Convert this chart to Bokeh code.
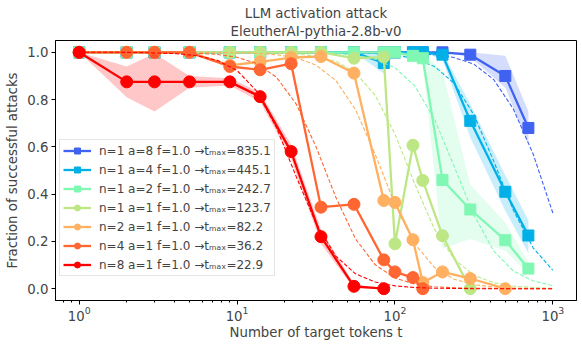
from bokeh.plotting import figure
from bokeh.models import Range1d, FixedTicker, PrintfTickFormatter, Legend, LegendItem, Title
from bokeh.embed import file_html
from bokeh.resources import INLINE

# ---------------- data ----------------
T_ALL = [1, 2, 3, 5, 9, 14, 22, 34, 55, 85, 100, 130, 150, 200, 300, 500, 700]

labels = [
    "n=1 a=8 f=1.0 \u2192t\u2098\u2090\u2093=835.1",
    "n=1 a=4 f=1.0 \u2192t\u2098\u2090\u2093=445.1",
    "n=1 a=2 f=1.0 \u2192t\u2098\u2090\u2093=242.7",
    "n=1 a=1 f=1.0 \u2192t\u2098\u2090\u2093=123.7",
    "n=2 a=1 f=1.0 \u2192t\u2098\u2090\u2093=82.2",
    "n=4 a=1 f=1.0 \u2192t\u2098\u2090\u2093=36.2",
    "n=8 a=1 f=1.0 \u2192t\u2098\u2090\u2093=22.9",
]
colors = ["#4062f2", "#00b0e6", "#80f8b4", "#bde785", "#ffb060", "#ff6632", "#ff0000"]
markers = ["square", "square", "square", "circle", "circle", "circle", "circle"]

# measured success fractions
y_a8 = [1, 1, 1, 1, 1, 1, 1, 1, 1, 1, 1, 1, 1, 1, 0.99, 0.90, 0.68]
y_a4 = [1, 1, 1, 1, 1, 1, 1, 1, 1, 0.955, 1, 1, 1, 0.99, 0.71, 0.41, 0.225]
y_a2 = [1, 1, 1, 1, 1, 1, 1, 1, 1, 1, 1, 0.985, 0.975, 0.46, 0.335, 0.205, 0.085]
y_n1 = [1, 1, 1, 1, 1, 1, 1, 1, 0.975, 0.98, 0.19, 0.607, 0.458, 0.224, 0.0]
y_n2 = [1, 1, 1, 1, 0.945, 0.96, 0.978, 0.982, 0.912, 0.373, 0.365, 0.207, 0.026, 0.071, 0.043, 0.0]
y_n4 = [1, 1, 1, 1, 0.94, 0.926, 0.952, 0.345, 0.357, 0.122, 0.071, 0.047, 0.0]
y_n8 = [1, 0.875, 0.875, 0.875, 0.875, 0.8125, 0.58, 0.22, 0.01, 0.0]

# shaded spread (lower / upper)
lo_a8 = [1, 1, 1, 1, 1, 1, 1, 1, 1, 1, 1, 1, 1, 1, 0.98, 0.85, 0.61]
hi_a8 = [1, 1, 1, 1, 1, 1, 1, 1, 1, 1, 1, 1, 1, 1, 1.0, 0.985, 0.75]
lo_a4 = [1, 1, 1, 1, 1, 1, 1, 1, 1, 0.91, 1, 1, 1, 0.97, 0.64, 0.33, 0.15]
hi_a4 = [1, 1, 1, 1, 1, 1, 1, 1, 1, 1.0, 1, 1, 1, 1.0, 0.78, 0.48, 0.29]
lo_a2 = [1, 1, 1, 1, 1, 1, 1, 1, 1, 1, 1, 0.97, 0.95, 0.17, 0.21, 0.16, 0.065]
hi_a2 = [1, 1, 1, 1, 1, 1, 1, 1, 1, 1, 1, 1.0, 1.0, 0.92, 0.44, 0.28, 0.11]
lo_n8 = [1, 0.81, 0.75, 0.85, 0.86, 0.79, 0.55, 0.19, 0.0, 0.0]
hi_n8 = [1, 0.94, 0.995, 0.90, 0.89, 0.83, 0.61, 0.25, 0.02, 0.0]

# dashed fitted curves, read at these t values
T_FIT = [1, 1.33, 1.78, 2.37, 3.16, 4.22, 5.62, 7.5, 10, 13.3, 17.8, 23.7, 31.6,
         42.2, 56.2, 75, 100, 133, 178, 237, 316, 422, 562, 750, 1000]
fit_a8 = [1, 1, 1, 1, 1, 1, 1, 1, 1, 1, 1, 1, 1, 1, 1, 0.999, 0.998, 0.996, 0.99,
          0.978, 0.95, 0.885, 0.76, 0.57, 0.32]
fit_a4 = [1, 1, 1, 1, 1, 1, 1, 1, 1, 1, 1, 1, 1, 0.999, 0.998, 0.995, 0.989, 0.974,
          0.94, 0.869, 0.736, 0.54, 0.332, 0.173, 0.078]
fit_a2 = [1, 1, 1, 1, 1, 1, 1, 1, 1, 1, 1, 0.999, 0.998, 0.995, 0.988, 0.971, 0.935,
          0.859, 0.717, 0.518, 0.312, 0.16, 0.075, 0.033, 0.013]
fit_n1 = [1, 1, 1, 1, 1, 1, 1, 1, 0.999, 0.999, 0.997, 0.993, 0.984, 0.962, 0.914,
          0.818, 0.654, 0.446, 0.251, 0.125, 0.057, 0.025, 0.011, 0.005, 0.002]
fit_n2 = [1, 1, 1, 1, 1, 1, 1, 0.999, 0.998, 0.996, 0.99, 0.977, 0.946, 0.881, 0.758,
          0.568, 0.357, 0.191, 0.09, 0.04, 0.017, 0.007, 0.003, 0.001, 0.001]
fit_n4 = [1, 1, 1, 1, 0.999, 0.998, 0.996, 0.991, 0.979, 0.953, 0.894, 0.781, 0.601,
          0.387, 0.211, 0.101, 0.045, 0.02, 0.008, 0.004, 0.002, 0.001, 0, 0, 0]
fit_n8 = [1, 1, 1, 0.999, 0.997, 0.994, 0.985, 0.966, 0.923, 0.836, 0.68, 0.474,
          0.276, 0.138, 0.063, 0.028, 0.012, 0.005, 0.002, 0.001, 0, 0, 0, 0, 0]

series_y = [y_a8, y_a4, y_a2, y_n1, y_n2, y_n4, y_n8]
series_fit = [fit_a8, fit_a4, fit_a2, fit_n1, fit_n2, fit_n4, fit_n8]
bands = {0: (lo_a8, hi_a8), 1: (lo_a4, hi_a4), 2: (lo_a2, hi_a2), 6: (lo_n8, hi_n8)}

X_TICKS = [1, 10, 100, 1000]
X_MINOR = [0.8, 0.9, 2, 3, 4, 5, 6, 7, 8, 9, 20, 30, 40, 50, 60, 70, 80, 90,
           200, 300, 400, 500, 600, 700, 800, 900]
Y_TICKS = [0.0, 0.2, 0.4, 0.6, 0.8, 1.0]

# ---------------- figure ----------------
FONT = "DejaVu Sans"
p = figure(width=582, height=346, x_axis_type="log",
           x_range=Range1d(0.708, 1412), y_range=Range1d(-0.05, 1.05),
           output_backend="svg", toolbar_location=None, title=None,
           min_border_left=55, min_border_right=6, min_border_top=40,
           min_border_bottom=46)

items = []
for i in range(7):
    ys = series_y[i]
    ts = T_ALL[:len(ys)]
    c = colors[i]
    if i in bands:
        lo, hi = bands[i]
        p.varea(x=ts, y1=lo, y2=hi, fill_color=c, fill_alpha=0.22)
    lr = p.line(ts, ys, line_color=c, line_width=2.3)
    sz = 11 if markers[i] == "square" else 12
    sr = p.scatter(ts, ys, marker=markers[i], size=sz, fill_color=c, line_color=c)
    p.line(T_FIT, series_fit[i], line_color=c, line_width=1.1, line_dash="4 2")
    items.append(LegendItem(label=labels[i], renderers=[lr, sr]))

legend = Legend(items=items, location=(4, 24))
legend.label_text_font = FONT
legend.label_text_font_size = "12px"
legend.glyph_width = 28
legend.glyph_height = 15
legend.label_height = 15
legend.spacing = 4
legend.padding = 3
legend.margin = 0
legend.label_standoff = 8
legend.border_line_color = "#cccccc"
legend.background_fill_alpha = 0.85
p.add_layout(legend)

p.add_layout(Title(text="EleutherAI-pythia-2.8b-v0", align="center", text_font=FONT,
                   text_font_size="13.3px", text_font_style="normal", standoff=3), "above")
p.add_layout(Title(text="LLM activation attack", align="center", text_font=FONT,
                   text_font_size="13.3px", text_font_style="normal", standoff=0), "above")

p.xaxis.ticker = FixedTicker(ticks=X_TICKS, minor_ticks=X_MINOR)
p.yaxis.ticker = FixedTicker(ticks=Y_TICKS)
p.yaxis.formatter = PrintfTickFormatter(format="%.1f")
p.xgrid.visible = False
p.ygrid.visible = False
p.outline_line_color = "black"
p.outline_line_alpha = 1.0
for ax in [p.xaxis[0], p.yaxis[0]]:
    ax.axis_line_color = "black"
    ax.major_tick_in = 0
    ax.major_tick_out = 4
    ax.minor_tick_in = 0
    ax.minor_tick_out = 2
    ax.major_label_text_font = FONT
    ax.major_label_text_font_size = "13.3px"
    ax.axis_label_text_font = FONT
    ax.axis_label_text_font_size = "13.3px"
    ax.axis_label_text_font_style = "normal"
    ax.major_label_standoff = 3
    ax.axis_label_standoff = 4
p.xaxis.major_label_standoff = 1
p.xaxis.axis_label_standoff = 1
p.yaxis.minor_tick_line_color = None
p.xaxis.axis_label = "Number of target tokens t"
p.yaxis.axis_label = "Fraction of successful attacks"

open("out.html", "w").write(file_html(p, INLINE))
